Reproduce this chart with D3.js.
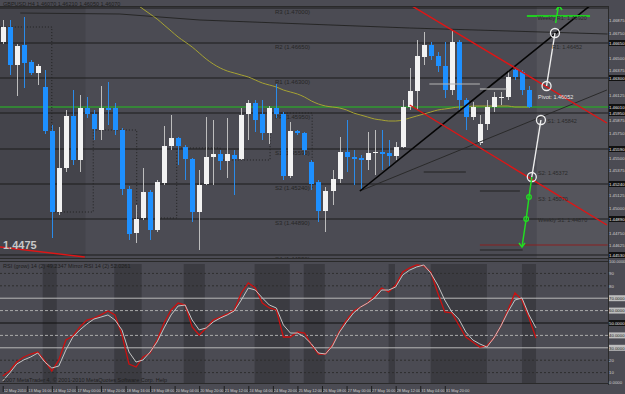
<!DOCTYPE html>
<html><head><meta charset="utf-8">
<script src="https://cdn.jsdelivr.net/npm/d3@7"></script>
<style>
html,body{margin:0;padding:0;background:#4d4d55;overflow:hidden}
svg{display:block}
text{font-family:"Liberation Sans",Arial,sans-serif}
</style></head>
<body>
<svg id="c" width="625" height="394"></svg>
<script>
// ---------- DATA ----------
const open  = [1.4666,1.4681,1.4643,1.4663,1.4646,1.4635,1.4621,1.4577,1.4496,1.4540,1.4592,1.4548,1.4600,1.4594,1.4578,1.4600,1.4600,1.4578,1.4519,1.4475,1.4490,1.4516,1.4478,1.4525,1.4562,1.4570,1.4561,1.4549,1.4496,1.4524,1.4551,1.4554,1.4547,1.4553,1.4549,1.4594,1.4605,1.4594,1.4575,1.4600,1.4594,1.4532,1.4577,1.4575,1.4546,1.4526,1.4497,1.4517,1.4529,1.4556,1.4551,1.4550,1.4548,1.4555,1.4556,1.4555,1.4552,1.4561,1.4601,1.4617,1.4651,1.4663,1.4652,1.4642,1.4618,1.4666,1.4608,1.4591,1.4565,1.4584,1.4601,1.4610,1.4611,1.4638,1.4636,1.4618];
const high  = [1.4688,1.4688,1.4664,1.4691,1.4648,1.4644,1.4638,1.4583,1.4581,1.4598,1.4618,1.4613,1.4611,1.4598,1.4622,1.4626,1.4605,1.4580,1.4522,1.4503,1.4540,1.4518,1.4528,1.4582,1.4593,1.4571,1.4563,1.4550,1.4538,1.4591,1.4588,1.4558,1.4590,1.4558,1.4600,1.4608,1.4608,1.4608,1.4602,1.4624,1.4596,1.4586,1.4578,1.4576,1.4548,1.4528,1.4521,1.4538,1.4571,1.4588,1.4558,1.4553,1.4576,1.4578,1.4578,1.4568,1.4566,1.4608,1.4640,1.4668,1.4676,1.4666,1.4656,1.4666,1.4678,1.4668,1.4610,1.4606,1.4593,1.4608,1.4616,1.4616,1.4638,1.4640,1.4638,1.4622];
const low   = [1.4664,1.4633,1.4612,1.4620,1.4633,1.4623,1.4574,1.4470,1.4493,1.4536,1.4543,1.4536,1.4590,1.4568,1.4568,1.4583,1.4573,1.4513,1.4468,1.4465,1.4488,1.4468,1.4476,1.4523,1.4558,1.4543,1.4528,1.4486,1.4458,1.4523,1.4523,1.4538,1.4530,1.4513,1.4548,1.4568,1.4576,1.4568,1.4564,1.4590,1.4528,1.4530,1.4573,1.4553,1.4518,1.4486,1.4476,1.4503,1.4525,1.4536,1.4523,1.4518,1.4538,1.4533,1.4538,1.4540,1.4548,1.4560,1.4598,1.4598,1.4643,1.4648,1.4636,1.4610,1.4613,1.4598,1.4578,1.4588,1.4563,1.4578,1.4596,1.4603,1.4608,1.4628,1.4613,1.4600];
const close = [1.4681,1.4643,1.4662,1.4645,1.4635,1.4642,1.4577,1.4496,1.4540,1.4592,1.4548,1.4600,1.4594,1.4579,1.4600,1.4598,1.4578,1.4519,1.4474,1.4489,1.4516,1.4478,1.4526,1.4562,1.4570,1.4562,1.4549,1.4496,1.4523,1.4551,1.4554,1.4547,1.4554,1.4549,1.4593,1.4605,1.4588,1.4575,1.4600,1.4594,1.4532,1.4577,1.4575,1.4558,1.4524,1.4497,1.4517,1.4529,1.4556,1.4551,1.4549,1.4548,1.4555,1.4556,1.4554,1.4552,1.4561,1.4601,1.4617,1.4652,1.4663,1.4652,1.4642,1.4618,1.4666,1.4608,1.4591,1.4601,1.4584,1.4601,1.4611,1.4611,1.4631,1.4631,1.4618,1.4601];
// moving average (starts at bar 18)
const maStart = 18;
const maValues = [1.4709,1.4704,1.4699,1.4694,1.4689,1.4683,1.4677,1.4671,1.4666,1.4661,1.4655,1.4649,1.4644,1.4640,1.4637,1.4635,1.4633,1.4631,1.4628,1.4625,1.4623,1.4621,1.4618,1.4616,1.4614,1.4611,1.4607,1.4604,1.4602,1.4601,1.4600,1.4598,1.4595,1.4593,1.4591,1.4589,1.4588,1.4587,1.4587,1.4588,1.4590,1.4592,1.4594,1.4596,1.4598,1.4599,1.4600,1.4601,1.4601,1.4602,1.4602,1.4602,1.4602,1.4602,1.4602,1.4601,1.4601,1.4601];
// RSI lines
const rsiRed   = [7.3,11.3,18.5,22.6,25.0,26.6,19.4,11.3,20.2,36.3,39.5,46.8,52.4,54.0,56.5,59.7,56.5,40.3,16.9,14.5,22.6,25.8,36.3,50.0,60.5,66.1,64.5,46.8,40.3,46.0,52.4,54.8,57.3,60.5,74.2,82.3,78.2,66.1,62.1,60.5,38.7,38.7,42.7,41.9,32.3,25.0,25.0,32.3,43.5,52.4,59.7,62.9,66.1,71.8,78.2,75.0,80.6,91.1,94.4,96.8,96.0,91.1,74.2,58.9,58.1,48.4,38.7,34.7,30.6,31.5,37.9,47.6,60.5,74.2,68.5,54.0,37.9];
const rsiWhite = [3.2,9.7,16.9,20.2,22.6,25.8,18.5,13.7,15.3,28.2,38.7,44.4,49.2,53.2,54.8,56.5,52.4,44.4,26.6,18.5,20.2,26.6,34.7,46.0,56.5,63.7,64.5,52.4,44.4,46.0,50.8,54.0,56.5,59.7,68.5,78.2,76.6,70.2,64.5,62.1,48.4,41.9,41.9,38.7,33.1,25.8,25.0,31.5,42.7,50.8,58.1,62.9,66.1,70.2,76.6,76.6,79.0,88.7,92.7,95.2,96.8,90.3,80.6,68.5,58.9,53.2,42.7,36.3,33.1,30.6,37.9,47.6,58.9,68.5,70.2,56.5,46.0];
// pivot levels
const pivotNames  = ["R3","R2","R1","PP","S1","S2","S3","S4"];
const pivotLevels = [1.4700,1.4665,1.4630,1.4595,1.4559,1.4524,1.4489,1.4453];
const greenLevel = 1.4601;
// RSI levels
const rsiSolid = [70,30], rsiDash = [60,40], rsiDot = [90,80,20,10], rsiMid = 50;
const rsiTickValues = [0,10,20,80,90,100];
const rsiTickLabels = ["0.0000","10","20","80","90","100.0000"];
const rsiBoxed = [70,60,50,40,30];
// time axis labels
const timeLabels = ["12 May 2010","13 May 16:00","14 May 12:00","17 May 00:00","17 May 20:00","18 May 16:00","19 May 08:00","20 May 04:00","20 May 20:00","21 May 12:00","24 May 04:00","24 May 20:00","25 May 12:00","26 May 08:00","27 May 00:00","27 May 16:00","28 May 12:00","31 May 04:00","31 May 20:00"];
// shaded sessions in RSI window [fromBar, toBar]
const sessions = [[5.7,7.7],[15.9,19.8],[25.8,28.8],[35.9,40.9],[42.9,45.9],[55,55.9],[61,69],[74,76]];
// trend lines  [bar, price]
const blackTrend = [[50.9,1.4517],[84.7,1.4708]];
const thinTrend  = [[50.9,1.4517],[86.1,1.4618]];
const redUpper   = [[56.9,1.4708],[86.1,1.4585]];
const redLower   = [[58,1.4603],[86.1,1.4483]];
const redLeft    = [[-0.4,1.4461],[11.7,1.4451]];
const topSlant   = [[2.5,1.4695],[16.7,1.4694],[28.1,1.4688],[58,1.4680],[86.2,1.4674]];
const staircase  = [[-0.4,1.4681],[7,1.4681],[7,1.4496],[12.9,1.4496],[12.9,1.4578],[19.1,1.4578],[19.1,1.4490],[24.8,1.4490],[24.8,1.4560],[31,1.4560],[31,1.4548],[38.1,1.4548],[38.1,1.4595],[44.1,1.4595],[44.1,1.4520]];
// projection markers
const whiteUp   = [[78.7,1.4675],[77.5,1.4622]];
const whiteDown = [[76.7,1.4588],[75.4,1.4531]];
const greenDown = [[75.4,1.4531],[75.0,1.4511],[74.6,1.4489],[74.0,1.4461]];
const greenUp   = [[78.8,1.4685],[79.3,1.4706]];
const greenBar  = [[74.7,1.4692],[83.7,1.4692]];
const grayLight = [[[60.8,1.4624],[68,1.4624]],[[68,1.4619],[71.8,1.4619]]];
const grayDark  = [[[68,1.4517],[73.7,1.4517]],[[68,1.4458],[74.1,1.4458]],[[60,1.4536],[66,1.4536]]];
const redDotted = [[68,1.4463],[86.2,1.4463]];
const markerTexts = [
  {t:"Weekly R1: 1.46920", b:76.2, p:1.4688, c:"#2a2a2a"},
  {t:"R1: 1.46452", b:78.3, p:1.4659, c:"#2a2a2a"},
  {t:"Pivot: 1.46052", b:76.3, p:1.4609, c:"#e6e6e6"},
  {t:"S1: 1.45842", b:77.6, p:1.4585, c:"#2a2a2a"},
  {t:"S2: 1.45372", b:76.3, p:1.4533, c:"#2a2a2a"},
  {t:"S3: 1.45070", b:76.3, p:1.4507, c:"#2a2a2a"},
  {t:"Weekly S1: 1.44870", b:76.3, p:1.4486, c:"#2a2a2a"}
];

// ---------- SCALES ----------
const W = 625, H = 394;
const mainTop = 6, mainBot = 258, rsiTop = 261, rsiBot = 385, axisX = 608;
const x = d3.scaleLinear().domain([0,75]).range([2.7,529]);
const y = d3.scaleLinear().domain([1.4450,1.4702]).range([mainBot,mainTop]);
const yr = d3.scaleLinear().domain([0,100]).range([rsiBot,rsiTop]);
const svg = d3.select("#c");
const line = d3.line().x(d=>x(d[0])).y(d=>y(d[1]));

// backgrounds
svg.append("rect").attr("width",W).attr("height",H).attr("fill","#4b4b53");
const defs = svg.append("defs");
defs.append("clipPath").attr("id","cm").append("rect").attr("x",0).attr("y",mainTop).attr("width",axisX).attr("height",mainBot-mainTop);
defs.append("clipPath").attr("id","cr").append("rect").attr("x",0).attr("y",rsiTop+2).attr("width",axisX).attr("height",rsiBot-rsiTop-3);

const gm = svg.append("g").attr("clip-path","url(#cm)");
gm.append("rect").attr("x",0).attr("y",mainTop).attr("width",x(11.8)).attr("height",mainBot-mainTop).attr("fill","#44444b");
gm.append("rect").attr("x",x(76.1)).attr("y",mainTop).attr("width",axisX-x(76.1)).attr("height",mainBot-mainTop).attr("fill","#55555c");

// pivot lines
gm.selectAll("line.pv").data(pivotLevels).join("line")
  .attr("x1",0).attr("x2",axisX).attr("y1",d=>y(d)).attr("y2",d=>y(d))
  .attr("stroke","#1c1c1c").attr("stroke-width",1);
gm.selectAll("text.pv").data(pivotLevels).join("text")
  .attr("x",x(38.8)).attr("y",d=>y(d)+6).attr("font-size",6).attr("fill","#262626")
  .text((d,i)=>pivotNames[i]+" ("+d.toFixed(5)+")");
gm.append("path").attr("d",line(topSlant)).attr("fill","none").attr("stroke","#262626");
gm.append("line").attr("x1",0).attr("x2",axisX).attr("y1",y(greenLevel)).attr("y2",y(greenLevel)).attr("stroke","#2f9a2f").attr("stroke-width",1.5);

gm.append("path").attr("d",line(staircase)).attr("fill","none").attr("stroke","#222").attr("stroke-dasharray","1,2");

// MA
const maPts = maValues.map((v,i)=>[maStart+i,v]);
gm.append("path").attr("d",d3.line().curve(d3.curveMonotoneX).x(d=>x(d[0])).y(d=>y(d[1]))(maPts))
  .attr("fill","none").attr("stroke","#a6a233").attr("stroke-width",1);

// candles
const bars = d3.range(open.length);
gm.selectAll("line.wk").data(bars).join("line")
  .attr("x1",i=>Math.round(x(i))+0.5).attr("x2",i=>Math.round(x(i))+0.5)
  .attr("y1",i=>y(high[i])).attr("y2",i=>y(low[i]))
  .attr("stroke",i=>close[i]>=open[i]?"#bdbdbd":"#2a8bea").attr("stroke-width",1);
gm.selectAll("rect.bd").data(bars).join("rect")
  .attr("x",i=>Math.round(x(i))-2).attr("width",5)
  .attr("y",i=>y(Math.max(open[i],close[i])))
  .attr("height",i=>Math.max(1,Math.abs(y(open[i])-y(close[i]))))
  .attr("fill",i=>close[i]>=open[i]?"#f2f2f2":"#1e90ff");

// trend lines
gm.append("path").attr("d",line(thinTrend)).attr("stroke","#2a2a2a").attr("fill","none").attr("stroke-width",1);
gm.append("path").attr("d",line(blackTrend)).attr("stroke","#050505").attr("fill","none").attr("stroke-width",1.6);
[redUpper,redLower,redLeft].forEach(l=>gm.append("path").attr("d",line(l)).attr("stroke","#e01515").attr("fill","none").attr("stroke-width",1.4));
gm.append("path").attr("d",line(redDotted)).attr("stroke","#8a2020").attr("fill","none").attr("stroke-width",1);
grayLight.forEach(l=>gm.append("path").attr("d",line(l)).attr("stroke","#b4b4b4").attr("fill","none").attr("stroke-width",1.2));
grayDark.forEach(l=>gm.append("path").attr("d",line(l)).attr("stroke","#222").attr("fill","none"));

// projection markers
[whiteUp,whiteDown].forEach(seg=>{
  gm.append("path").attr("d",line(seg)).attr("stroke","#eeeeee").attr("fill","none").attr("stroke-width",1.4);
});
gm.selectAll("circle.wc").data([...whiteUp,...whiteDown]).join("circle")
  .attr("cx",d=>x(d[0])).attr("cy",d=>y(d[1])).attr("r",4.5).attr("fill","none").attr("stroke","#eeeeee").attr("stroke-width",1.3);
gm.append("path").attr("d",line(greenDown)).attr("stroke","#22dd22").attr("fill","none").attr("stroke-width",1.5);
gm.selectAll("circle.gc").data(greenDown.slice(1,3)).join("circle")
  .attr("cx",d=>x(d[0])).attr("cy",d=>y(d[1])).attr("r",2.3).attr("fill","none").attr("stroke","#22dd22").attr("stroke-width",1.3);
const tip = greenDown[greenDown.length-1];
gm.append("path").attr("d",`M${x(tip[0])-3},${y(tip[1])-4}L${x(tip[0])},${y(tip[1])}L${x(tip[0])+3},${y(tip[1])-4}`).attr("stroke","#22dd22").attr("fill","none").attr("stroke-width",1.5);
gm.append("path").attr("d",line(greenBar)).attr("stroke","#22cc22").attr("fill","none").attr("stroke-width",2);
gm.append("path").attr("d",line(greenUp)).attr("stroke","#22dd22").attr("fill","none").attr("stroke-width",1.5);
const tu = greenUp[1];
gm.append("path").attr("d",`M${x(tu[0])-3},${y(tu[1])+8}L${x(tu[0])},${y(tu[1])+4}L${x(tu[0])+3},${y(tu[1])+8}`).attr("stroke","#22dd22").attr("fill","none").attr("stroke-width",1.5);
gm.selectAll("text.mk").data(markerTexts).join("text")
  .attr("x",d=>x(d.b)).attr("y",d=>y(d.p)).attr("font-size",5.5).attr("fill",d=>d.c).text(d=>d.t);

svg.append("text").attr("x",3).attr("y",249).attr("font-size",11).attr("font-weight","bold").attr("fill","#c8c8c8").text("1.4475");
svg.append("text").attr("x",3).attr("y",5.5).attr("font-size",5.5).attr("fill","#1e1e1e").text("GBPUSD,H4  1.46070 1.46210 1.46050 1.46070");

// frames
svg.append("line").attr("x1",0).attr("x2",axisX).attr("y1",mainTop+0.5).attr("y2",mainTop+0.5).attr("stroke","#2a2a2a");
svg.append("line").attr("x1",0).attr("x2",axisX).attr("y1",mainBot+0.5).attr("y2",mainBot+0.5).attr("stroke","#2a2a2a");
svg.append("line").attr("x1",axisX+0.5).attr("x2",axisX+0.5).attr("y1",mainTop).attr("y2",rsiBot).attr("stroke","#2a2a2a");

// right price axis
const boxed = [...pivotLevels.slice(1),greenLevel];
const pticks = d3.range(1.4450,1.47021,0.00125).filter(t=>boxed.every(b=>Math.abs(y(b)-y(t))>6) && y(t)>9);
svg.selectAll("text.pt").data(pticks).join("text")
  .attr("x",axisX+1).attr("y",d=>y(d)+1.8).attr("font-size",4.3).attr("fill","#d0d0d0").text(d=>d.toFixed(5));
const hl = svg.selectAll("g.hl").data(boxed).join("g");
hl.append("rect").attr("x",axisX+1).attr("y",d=>y(d)-3).attr("width",16).attr("height",6).attr("fill","#111");
hl.append("text").attr("x",axisX+1).attr("y",d=>y(d)+1.8).attr("font-size",4.3).attr("fill","#eee").text(d=>d.toFixed(5));

// ---------- RSI ----------
const gr = svg.append("g").attr("clip-path","url(#cr)");
gr.selectAll("rect.ss").data(sessions).join("rect")
  .attr("x",d=>x(d[0])).attr("width",d=>x(d[1])-x(d[0])).attr("y",rsiTop+3).attr("height",rsiBot-rsiTop-4).attr("fill","#3b3b41");
gr.selectAll("line.rd").data(rsiDot).join("line").attr("x1",0).attr("x2",axisX).attr("y1",d=>yr(d)).attr("y2",d=>yr(d)).attr("stroke","#2e2e2e").attr("stroke-dasharray","2,2");
gr.selectAll("line.rs").data(rsiSolid).join("line").attr("x1",0).attr("x2",axisX).attr("y1",d=>yr(d)).attr("y2",d=>yr(d)).attr("stroke","#b8b8b8").attr("stroke-width",1);
gr.selectAll("line.rh").data(rsiDash).join("line").attr("x1",0).attr("x2",axisX).attr("y1",d=>yr(d)).attr("y2",d=>yr(d)).attr("stroke","#aaaaaa").attr("stroke-dasharray","3,2");
gr.append("line").attr("x1",0).attr("x2",axisX).attr("y1",yr(rsiMid)).attr("y2",yr(rsiMid)).attr("stroke","#111").attr("stroke-width",1.2);
const rl = d3.line().x((d,i)=>x(i)).y(d=>yr(d));
gr.append("path").attr("d",rl(rsiRed)).attr("fill","none").attr("stroke","#cc1010").attr("stroke-width",1.3);
gr.append("path").attr("d",rl(rsiWhite)).attr("fill","none").attr("stroke","#c4c4c4").attr("stroke-width",1);
svg.append("line").attr("x1",0).attr("x2",axisX).attr("y1",rsiTop+0.5).attr("y2",rsiTop+0.5).attr("stroke","#2a2a2a");
svg.append("line").attr("x1",0).attr("x2",axisX).attr("y1",rsiBot-1.5).attr("y2",rsiBot-1.5).attr("stroke","#2a2a2a");
svg.append("text").attr("x",3).attr("y",rsiTop+7).attr("font-size",5.5).attr("fill","#1e1e1e").text("RSI (grow) 14 (2) 49.2347   Mirror RSI 14 (2) 52.0261");
svg.append("text").attr("x",3).attr("y",rsiBot-3).attr("font-size",5.5).attr("fill","#1e1e1e").text("2007 MetaTrader 4, © 2001-2010 MetaQuotes Software Corp.   Help");
svg.selectAll("text.rt").data(rsiTickValues).join("text")
  .attr("x",axisX+1).attr("y",d=>Math.min(yr(d)+1.8,rsiBot-1)).attr("font-size",(d,i)=>rsiTickLabels[i].length>7?3.9:4.3).attr("fill","#d0d0d0")
  .text((d,i)=>rsiTickLabels[i]);
svg.selectAll("rect.rh2").data(rsiBoxed).join("rect").attr("x",axisX+1).attr("y",d=>yr(d)-3).attr("width",16).attr("height",6).attr("fill",d=>d===50?"#111":"#bdbdbd");
svg.selectAll("text.rh2").data(rsiBoxed).join("text").attr("x",axisX+1).attr("y",d=>yr(d)+1.8).attr("font-size",4.3).attr("fill",d=>d===50?"#eee":"#222")
  .text(d=>d.toFixed(4));

// time axis
const tg = svg.selectAll("g.tk").data(timeLabels).join("g");
tg.append("text").attr("x",(d,i)=>x(i*3.5)+1).attr("y",391.5).attr("font-size",3.9).attr("fill","#cfcfcf").text(d=>d);
tg.append("line").attr("x1",(d,i)=>x(i*3.5)+0.5).attr("x2",(d,i)=>x(i*3.5)+0.5).attr("y1",386).attr("y2",392).attr("stroke","#1e1e1e");
</script>
</body></html>
